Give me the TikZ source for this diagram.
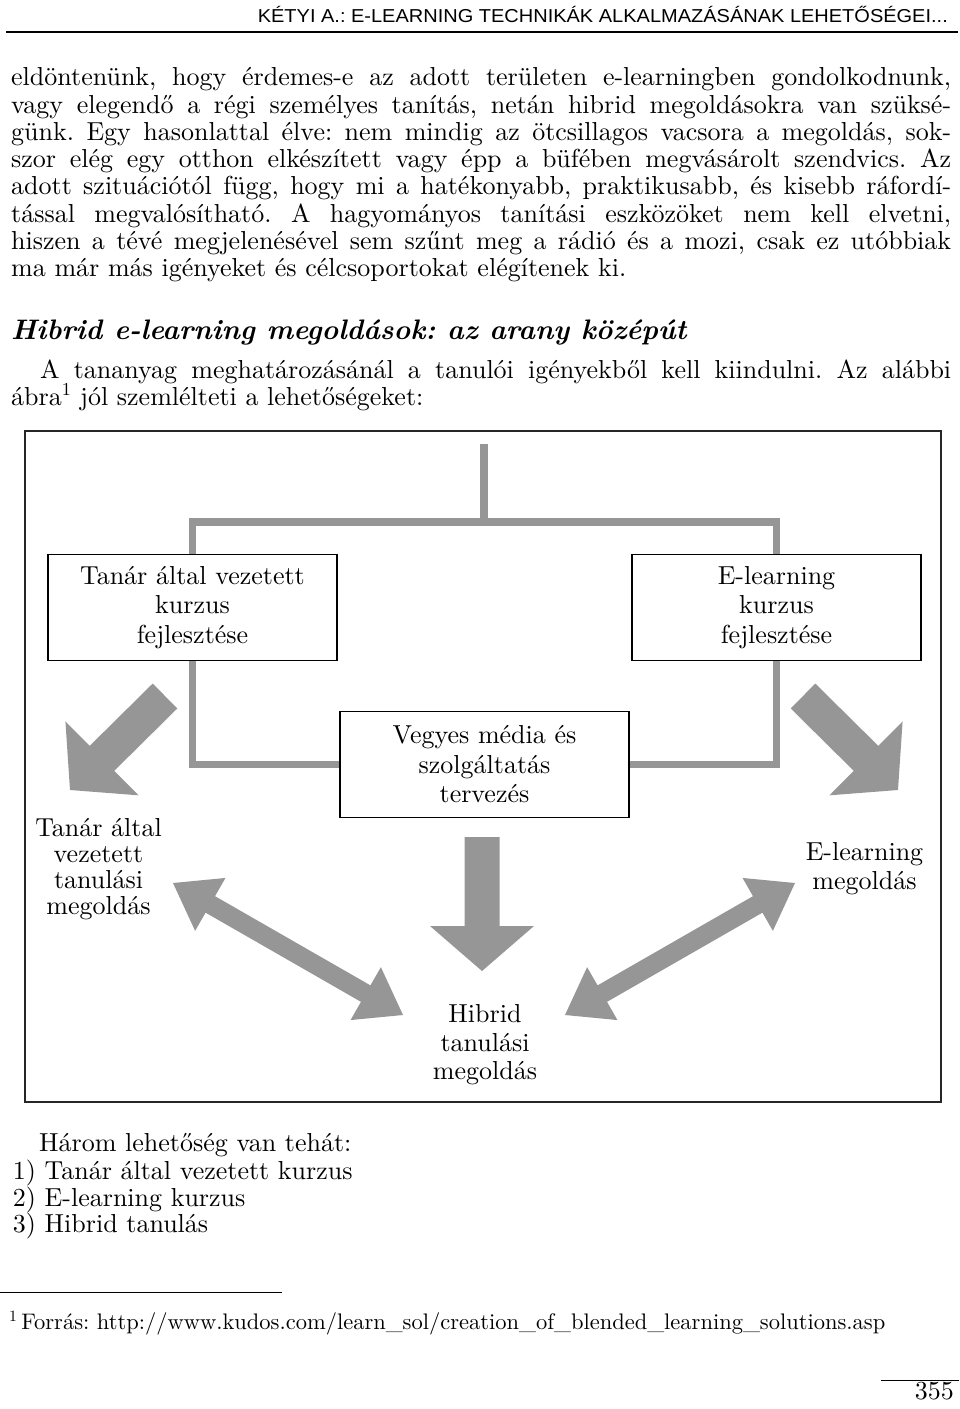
\documentclass[tikz,border=0pt]{standalone}
\usepackage{fontspec}
\usepackage{graphicx}
\usetikzlibrary{calc}

\setmainfont{lmroman10}[Extension=.otf, UprightFont=*-regular, BoldFont=*-bold,
  ItalicFont=*-italic, BoldItalicFont=*-bolditalic]
\newfontfamily\headfont{Liberation Sans}
\definecolor{arrowgray}{RGB}{150,150,150}
\frenchspacing

\newcommand{\jline}[2]{\makebox[#1pt][s]{#2}}
\newcommand{\fatarrow}[2]{%
  \coordinate (fa-b) at ($(#2)!45pt!(#1)$);
  \fill[arrowgray] ($(#1)!17.5pt!90:(#2)$) -- ($(fa-b)!17.5pt!90:(#2)$)
    -- ($(fa-b)!52pt!90:(#2)$) -- (#2) -- ($(fa-b)!52pt!-90:(#2)$)
    -- ($(fa-b)!17.5pt!-90:(#2)$) -- ($(#1)!17.5pt!-90:(#2)$) -- cycle;}
\newcommand{\fatdouble}[2]{%
  \coordinate (fd-a) at ($(#1)!43pt!(#2)$);
  \coordinate (fd-b) at ($(#2)!43pt!(#1)$);
  \fill[arrowgray] (#1) -- ($(fd-a)!30.5pt!90:(#2)$) -- ($(fd-a)!9.5pt!90:(#2)$)
    -- ($(fd-b)!9.5pt!-90:(#1)$) -- ($(fd-b)!30.5pt!-90:(#1)$) -- (#2)
    -- ($(fd-b)!30.5pt!90:(#1)$) -- ($(fd-b)!9.5pt!90:(#1)$)
    -- ($(fd-a)!9.5pt!-90:(#2)$) -- ($(fd-a)!30.5pt!-90:(#2)$) -- cycle;}

\begin{document}
\begin{tikzpicture}[x=1pt, y=-1pt,
    every node/.style={inner sep=0pt, font=\fontsize{26}{27.3}\selectfont},
    textline/.style={anchor=base west},
    box/.style={draw, line width=1.4pt, minimum width=289pt, minimum height=106pt,
                align=center, font=\fontsize{26}{29.5}\selectfont},
    outcome/.style={align=center},
    link/.style={draw=arrowgray, line width=7.5pt},
    frame/.style={draw=black!85, line width=2pt}]

\useasboundingbox (0,0) rectangle (960,1409);

\node[anchor=base east] (header) at (948,22)
    {\resizebox{690pt}{\height}{\headfont\fontsize{18.7}{20}\selectfont
     KÉTYI A.: E-LEARNING TECHNIKÁK ALKALMAZÁSÁNAK LEHETŐSÉGEI...}};
\draw[line width=2pt] (6,32) -- (958,32);

\node[textline] (par1) at (11,85.7) {\jline{940}{eldöntenünk, hogy érdemes-e az adott területen e-learningben gondolkodnunk,}};
\node[textline] (par2) at (11,113) {\jline{940}{vagy elegendő a régi személyes tanítás, netán hibrid megoldásokra van szüksé-}};
\node[textline] (par3) at (11,140.3) {\jline{940}{günk. Egy hasonlattal élve: nem mindig az ötcsillagos vacsora a megoldás, sok-}};
\node[textline] (par4) at (11,167.6) {\jline{940}{szor elég egy otthon elkészített vagy épp a büfében megvásárolt szendvics. Az}};
\node[textline] (par5) at (11,194.9) {\jline{940}{adott szituációtól függ, hogy mi a hatékonyabb, praktikusabb, és kisebb ráfordí-}};
\node[textline] (par6) at (11,222.2) {\jline{940}{tással megvalósítható. A hagyományos tanítási eszközöket nem kell elvetni,}};
\node[textline] (par7) at (11,249.5) {\jline{940}{hiszen a tévé megjelenésével sem szűnt meg a rádió és a mozi, csak ez utóbbiak}};
\node[textline] (par8) at (11,276.8) {ma már más igényeket és célcsoportokat elégítenek ki.};

\node[textline, font=\fontsize{28.2}{30}\selectfont\bfseries\itshape] (title) at (11,339.4)
    {Hibrid e-learning megoldások: az arany középút};

\node[textline] (intro1) at (40,378) {\jline{911}{A tananyag meghatározásánál a tanulói igényekből kell kiindulni. Az alábbi}};
\node[textline] (intro2) at (11,405) {ábra\textsuperscript{1} jól szemlélteti a lehetőségeket:};

\draw[frame] (24.5,431) rectangle (941,1102);

\coordinate (root) at (484,444);
\coordinate (split) at (484,522);
\node[box] (teacher) at (192.5,607.5) {Tanár által vezetett\\kurzus\\fejlesztése};
\node[box] (elearn) at (776.5,607.5) {E-learning\\kurzus\\fejlesztése};
\node[box] (media) at (484.5,764.5) {Vegyes média és\\szolgáltatás\\tervezés};

\draw[link] (root) -- (split);
\draw[link] (teacher.north) |- (split) -| (elearn.north);
\draw[link] (teacher.south) |- (media.west);
\draw[link] (elearn.south) |- (media.east);

\node[outcome, font=\fontsize{26}{26}\selectfont] (teachsol) at (98.5,869)
    {Tanár által\\vezetett\\tanulási\\megoldás};
\node[outcome, font=\fontsize{26}{29}\selectfont] (elearnsol) at (864.5,869)
    {E-learning\\megoldás};
\node[outcome, font=\fontsize{26}{28.6}\selectfont] (hybrid) at (485,1045)
    {Hibrid\\tanulási\\megoldás};

\coordinate (lt) at (165,696);
\coordinate (lh) at (70,790);
\coordinate (rt) at (803,696);
\coordinate (rh) at (898,790);
\coordinate (mt) at (482,837);
\coordinate (mh) at (482,971);
\coordinate (dl1) at (173,883);
\coordinate (dl2) at (403,1015);
\coordinate (dr1) at (795,883);
\coordinate (dr2) at (565,1015);

\fatarrow{lt}{lh}
\fatarrow{rt}{rh}
\fatarrow{mt}{mh}
\fatdouble{dl1}{dl2}
\fatdouble{dr1}{dr2}

\node[textline] (sum) at (39,1151.7) {Három lehetőség van tehát:};
\node[textline] (opt1) at (12.7,1179) {1) Tanár által vezetett kurzus};
\node[textline] (opt2) at (12.7,1206) {2) E-learning kurzus};
\node[textline] (opt3) at (12.7,1232.7) {3) Hibrid tanulás};

\draw[line width=1.3pt] (0,1292.7) -- (282,1292.7);
\node[textline, font=\fontsize{22.5}{25}\selectfont] (source) at (9,1329)
    {\textsuperscript{1}\,Forrás: http://www.kudos.com/learn\_sol/creation\_of\_blended\_learning\_solutions.asp};

\draw[line width=1.3pt] (881,1380.7) -- (959,1380.7);
\node[anchor=base east] (page) at (954,1399) {355};

\end{tikzpicture}
\end{document}
